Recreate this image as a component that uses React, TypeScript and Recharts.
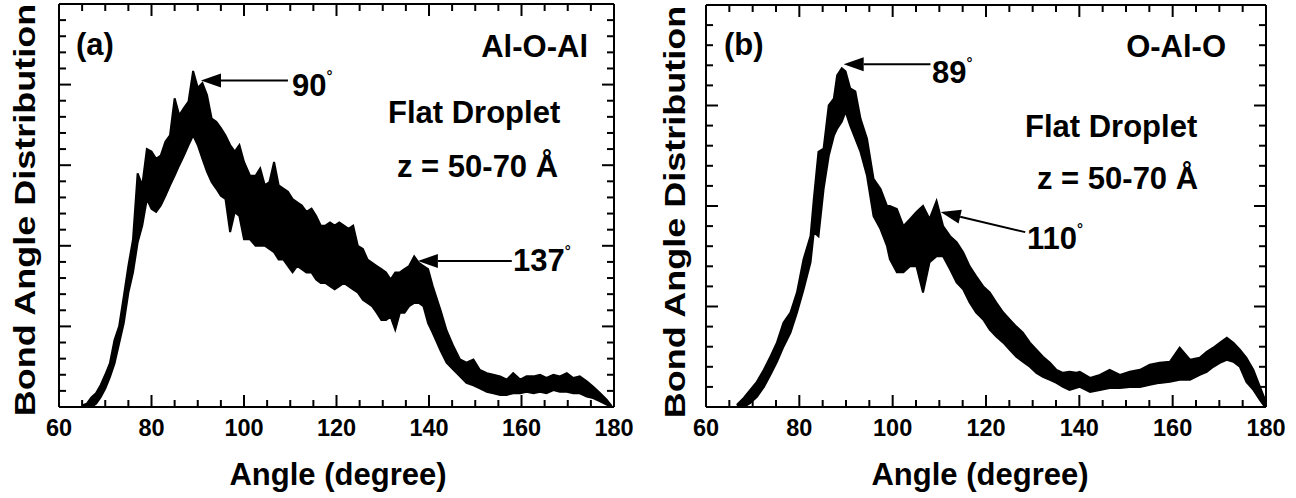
import React from 'react';
import { ComposedChart, Area, XAxis, YAxis, ReferenceLine } from 'recharts';

// (a) Al-O-Al : envelope of the noisy distribution
const anglesA = [
  65, 66, 67, 68, 69, 70, 71, 72, 73, 74,
  75, 76, 77, 78, 79, 80, 81, 82, 83, 84,
  85, 86, 87, 88, 89, 90, 91, 92, 93, 94,
  95, 96, 97, 98, 99, 100,
  101.3, 102.5, 103.5, 104.5, 105.5, 106.5, 107.5, 108.5, 109.5, 110.5,
  111.5, 112.5, 113.5, 114.6, 115.6, 116.6, 117.6, 118.6, 119.6, 120.6,
  121.6, 122.6, 123.6, 124.6, 125.7, 126.7, 127.7, 128.7, 129.7, 130.7,
  131.7, 132.7, 133.7, 134.7, 135.7, 136.8, 137.8, 138.8, 139.8, 140.8,
  142.5, 143.8,
  145.3, 146.7, 148.1, 149.6, 151, 152.5, 153.9, 155.4, 156.8, 158.2,
  159.7, 161.1, 162.6, 164, 165.4, 166.9, 168.3, 169.8, 171.2, 172.6,
  174.1, 175.5, 177, 178.4, 179.5,
];
const lowA = [
  0, 0, 0, 0.04, 0.12, 0.23, 0.37, 0.54, 0.79, 1.04,
  1.42, 1.67, 2.04, 2.25, 2.58, 2.46, 2.42, 2.5, 2.62, 2.75,
  2.87, 3.0, 3.12, 3.25, 3.37, 3.25, 3.08, 2.92, 2.79, 2.71,
  2.62, 2.58, 2.17, 2.42, 2.37, 2.08,
  2.08, 2.0, 2.0, 2.0, 1.96, 1.92, 1.83, 1.83, 1.75, 1.67,
  1.75, 1.71, 1.67, 1.67, 1.58, 1.54, 1.54, 1.5, 1.46, 1.5,
  1.54, 1.5, 1.46, 1.42, 1.33, 1.29, 1.25, 1.17, 1.08, 1.08,
  1.12, 0.96, 1.17, 1.17, 1.25, 1.29, 1.29, 1.25, 1.04, 0.92,
  0.7, 0.55,
  0.46, 0.38, 0.3, 0.27, 0.23, 0.19, 0.17, 0.15, 0.15, 0.17,
  0.17, 0.19, 0.17, 0.19, 0.17, 0.21, 0.19, 0.19, 0.17, 0.17,
  0.13, 0.11, 0.07, 0.03, 0,
];
const highA = [
  0.02, 0.04, 0.12, 0.17, 0.27, 0.4, 0.54, 0.83, 1.0, 1.37,
  1.75, 2.08, 2.9, 2.75, 3.2, 3.17, 3.08, 3.12, 3.29, 3.37,
  3.83, 3.62, 3.71, 3.79, 4.17, 3.96, 4.02, 3.87, 3.58, 3.54,
  3.46, 3.37, 3.25, 3.17, 3.25, 3.04,
  2.87, 2.87, 2.96, 2.75, 2.79, 3.04, 2.75, 2.71, 2.67, 2.58,
  2.54, 2.5, 2.42, 2.46, 2.37, 2.25, 2.25, 2.29, 2.25, 2.29,
  2.25, 2.21, 2.25, 2.0, 1.96, 1.83, 1.79, 1.75, 1.71, 1.67,
  1.58, 1.67, 1.67, 1.71, 1.75, 1.87, 1.79, 1.75, 1.71, 1.5,
  1.2, 0.95,
  0.75, 0.59, 0.55, 0.59, 0.46, 0.42, 0.4, 0.38, 0.34, 0.42,
  0.34, 0.38, 0.38, 0.4, 0.36, 0.4, 0.38, 0.42, 0.36, 0.38,
  0.32, 0.25, 0.17, 0.09, 0.01,
];

// (b) O-Al-O
const anglesB = [
  66.6, 68.1, 69.5, 70.9, 72.4, 73.8, 75.2, 76.6, 78.1, 79.5,
  80.9, 82.4, 83.1, 84.1, 85.2, 86.3, 87.4, 88.1, 89.1, 89.9,
  90.9, 92.0, 93.1, 94.5, 95.9, 97.4, 98.8,
  99.4, 100.9, 102.3, 103.7, 105.1, 106.5, 107.9, 109.4, 110.8, 112.3,
  113.7, 115.1, 116.5, 117.9, 119.4, 120.8, 122.2, 123.7, 125.1, 126.5,
  127.9, 129.4, 130.8, 132.2, 133.7, 135.1, 136.5, 137.9, 139.4,
  140.1, 142.3, 144.4, 146.5, 148.7, 150.8, 153.0, 155.1, 157.2, 159.4,
  161.5, 163.7, 165.8, 167.3, 168.7, 170.1, 171.6, 173.0, 174.4, 175.8,
  177.3, 178.7, 179.8,
];
const lowB = [
  0, 0, 0.04, 0.1, 0.2, 0.32, 0.45, 0.6, 0.74, 0.94,
  1.17, 1.44, 1.74, 1.7, 2.17, 2.5, 2.7, 2.77, 2.84, 2.94,
  2.8, 2.67, 2.54, 2.3, 1.9, 1.77, 1.6,
  1.47, 1.34, 1.34, 1.4, 1.4, 1.14, 1.44, 1.5, 1.5, 1.37,
  1.24, 1.17, 1.04, 0.94, 0.87, 0.77, 0.7, 0.64, 0.57, 0.5,
  0.45, 0.4, 0.34, 0.3, 0.27, 0.24, 0.2, 0.17, 0.19,
  0.2, 0.15, 0.17, 0.19, 0.19, 0.2, 0.2, 0.22, 0.24, 0.25,
  0.27, 0.27, 0.32, 0.35, 0.4, 0.44, 0.47, 0.45, 0.4, 0.25,
  0.17, 0.07, 0,
];
const highB = [
  0.02, 0.09, 0.17, 0.25, 0.37, 0.5, 0.64, 0.84, 0.94, 1.14,
  1.47, 1.7, 2.07, 2.54, 2.57, 3.0, 3.07, 3.3, 3.37, 3.34,
  3.17, 3.14, 2.87, 2.67, 2.27, 2.17, 2.0,
  2.0, 1.97, 1.8, 1.87, 1.94, 2.0, 1.87, 2.05, 1.8, 1.7,
  1.64, 1.54, 1.4, 1.3, 1.2, 1.14, 1.04, 0.94, 0.87, 0.8,
  0.74, 0.64, 0.57, 0.5, 0.44, 0.37, 0.34, 0.35, 0.34,
  0.35, 0.29, 0.32, 0.37, 0.32, 0.35, 0.37, 0.42, 0.44, 0.45,
  0.59, 0.47, 0.49, 0.55, 0.59, 0.64, 0.69, 0.64, 0.57, 0.49,
  0.37, 0.2, 0.07,
];

const xTicks = [60, 65, 70, 75, 80, 85, 90, 95, 100, 105, 110, 115, 120, 125, 130, 135, 140, 145, 150, 155, 160, 165, 170, 175, 180];
const yTicksA = [0, 0.2, 0.4, 0.6, 0.8, 1, 1.2, 1.4, 1.6, 1.8, 2, 2.2, 2.4, 2.6, 2.8, 3, 3.2, 3.4, 3.6, 3.8, 4, 4.2, 4.4, 4.6, 4.8, 5];
const yTicksB = [0, 0.2, 0.4, 0.6, 0.8, 1, 1.2, 1.4, 1.6, 1.8, 2, 2.2, 2.4, 2.6, 2.8, 3, 3.2, 3.4, 3.6, 3.8, 4];

const FONT = '"Liberation Sans", Arial, Helvetica, sans-serif';

const isInt = (v: number) => Math.abs(v - Math.round(v)) < 1e-6;

const BottomTick = (p: any) => {
  const v = p.payload.value;
  const major = v % 20 === 0;
  return (
    <g>
      <line x1={p.x} y1={p.y} x2={p.x} y2={p.y - (major ? 12 : 7)} stroke="#000" strokeWidth={2} />
      {major && (
        <text x={p.x} y={p.y + 21} textAnchor="middle" dominantBaseline="central"
          fontSize={23.5} fontWeight="bold" fontFamily={FONT} fill="#000">{v}</text>
      )}
    </g>
  );
};
const TopTick = (p: any) => {
  const major = p.payload.value % 20 === 0;
  return <line x1={p.x} y1={p.y} x2={p.x} y2={p.y + (major ? 12 : 7)} stroke="#000" strokeWidth={2} />;
};
const LeftTick = (p: any) => {
  const major = isInt(p.payload.value);
  return <line x1={p.x} y1={p.y} x2={p.x + (major ? 12 : 7)} y2={p.y} stroke="#000" strokeWidth={2} />;
};
const RightTick = (p: any) => {
  const major = isInt(p.payload.value);
  return <line x1={p.x} y1={p.y} x2={p.x - (major ? 12 : 7)} y2={p.y} stroke="#000" strokeWidth={2} />;
};

// arrow whose head sits on the first point of the segment
const Arrow = (p: any) => {
  const { x1, y1, x2, y2 } = p;
  const dx = x2 - x1;
  const dy = y2 - y1;
  const len = Math.hypot(dx, dy) || 1;
  const ux = dx / len;
  const uy = dy / len;
  const hl = 20;
  const hw = 7;
  const bx = x1 + ux * hl;
  const by = y1 + uy * hl;
  const pts = `${x1},${y1} ${bx - uy * hw},${by + ux * hw} ${bx + uy * hw},${by - ux * hw}`;
  return (
    <g>
      <line x1={bx} y1={by} x2={x2} y2={y2} stroke="#000" strokeWidth={2} />
      <polygon points={pts} fill="#000" />
    </g>
  );
};

type Panel = {
  angles: number[];
  low: number[];
  high: number[];
  yMax: number;
  yTicks: number[];
  margin: { top: number; right: number; bottom: number; left: number };
  arrows: { x: number; y: number }[][];
};

function BondPanel({ angles, low, high, yMax, yTicks, margin, arrows }: Panel) {
  const data = angles.map((a, i) => ({ angle: a, band: [low[i], high[i]] }));
  const axisLine = { stroke: '#000', strokeWidth: 2 };
  return (
    <ComposedChart width={648} height={498} data={data} margin={margin}>
      <XAxis dataKey="angle" type="number" domain={[60, 180]} ticks={xTicks} interval={0} height={1}
        tickSize={0} tickMargin={0} tickLine={false} axisLine={axisLine} tick={BottomTick} allowDataOverflow />
      <XAxis xAxisId="top" orientation="top" dataKey="angle" type="number" domain={[60, 180]} ticks={xTicks} interval={0} height={1}
        tickSize={0} tickMargin={0} tickLine={false} axisLine={axisLine} tick={TopTick} allowDataOverflow />
      <YAxis type="number" domain={[0, yMax]} ticks={yTicks} interval={0} width={1}
        tickSize={0} tickMargin={0} tickLine={false} axisLine={axisLine} tick={LeftTick} allowDataOverflow />
      <YAxis yAxisId="right" orientation="right" type="number" domain={[0, yMax]} ticks={yTicks} interval={0} width={1}
        tickSize={0} tickMargin={0} tickLine={false} axisLine={axisLine} tick={RightTick} allowDataOverflow />
      <Area type="linear" dataKey="band" stroke="#000" strokeWidth={2} strokeLinejoin="miter" fill="#000" fillOpacity={1}
        dot={false} activeDot={false} isAnimationActive={false} />
      {arrows.map((seg, i) => (
        <ReferenceLine key={i} segment={seg} shape={Arrow} ifOverflow="visible" />
      ))}
    </ComposedChart>
  );
}

const T = ({ x, y, size = 31, anchor = 'start', children }: any) => (
  <text x={x} y={y} textAnchor={anchor} dominantBaseline="central"
    fontSize={size} fontWeight="bold" fontFamily={FONT} fill="#000">{children}</text>
);
const Deg = () => <tspan fontSize={15} dy={-10}>°</tspan>;

export default function App() {
  return (
    <div style={{ position: 'absolute', left: 0, top: 0, width: 1296, height: 498, background: '#fff' }}>
      <div style={{ position: 'absolute', left: 0, top: 0 }}>
        <BondPanel angles={anglesA} low={lowA} high={highA} yMax={5} yTicks={yTicksA}
          margin={{ top: 3, right: 33, bottom: 90, left: 58 }}
          arrows={[
            [{ x: 90.7, y: 4.05 }, { x: 109.5, y: 4.05 }],
            [{ x: 137.6, y: 1.81 }, { x: 157.9, y: 1.81 }],
          ]} />
      </div>
      <div style={{ position: 'absolute', left: 648, top: 0 }}>
        <BondPanel angles={anglesB} low={lowB} high={highB} yMax={4} yTicks={yTicksB}
          margin={{ top: 4, right: 29, bottom: 90, left: 57 }}
          arrows={[
            [{ x: 89.5, y: 3.41 }, { x: 108.1, y: 3.41 }],
            [{ x: 110.3, y: 1.94 }, { x: 128.4, y: 1.74 }],
          ]} />
      </div>
      <svg width={1296} height={498} style={{ position: 'absolute', left: 0, top: 0, pointerEvents: 'none' }}>
        {/* panel (a) */}
        <text transform="translate(25,210) rotate(-90) scale(1.2,1)" textAnchor="middle" dominantBaseline="central"
          fontSize={30} fontWeight="bold" fontFamily={FONT} fill="#000">Bond Angle Distribution</text>
        <T x={338} y={474} anchor="middle">Angle (degree)</T>
        <T x={76} y={44}>(a)</T>
        <T x={588} y={46} anchor="end">Al-O-Al</T>
        <T x={292} y={85}>90<Deg /></T>
        <T x={388} y={112}>Flat Droplet</T>
        <T x={397} y={166}>z = 50-70 Å</T>
        <T x={513} y={260}>137<Deg /></T>
        {/* panel (b) */}
        <text transform="translate(675,212) rotate(-90) scale(1.2,1)" textAnchor="middle" dominantBaseline="central"
          fontSize={30} fontWeight="bold" fontFamily={FONT} fill="#000">Bond Angle Distribution</text>
        <T x={980} y={474} anchor="middle">Angle (degree)</T>
        <T x={724} y={44}>(b)</T>
        <T x={1226} y={46} anchor="end">O-Al-O</T>
        <T x={932} y={72}>89<Deg /></T>
        <T x={1025} y={126}>Flat Droplet</T>
        <T x={1037} y={178}>z = 50-70 Å</T>
        <T x={1027} y={238}>110<Deg /></T>
      </svg>
    </div>
  );
}
